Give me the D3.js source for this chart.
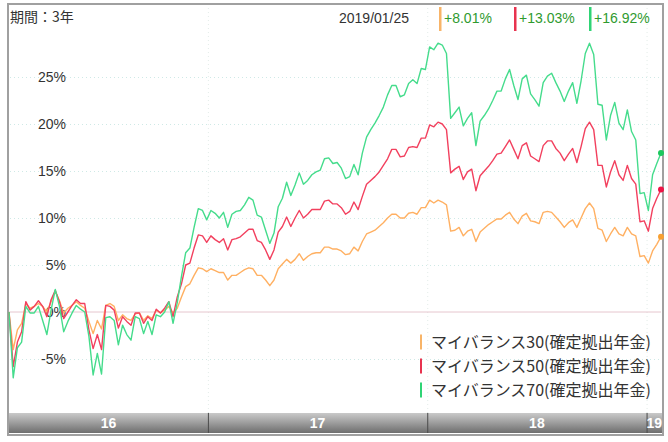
<!DOCTYPE html>
<html><head><meta charset="utf-8">
<script src="https://cdn.jsdelivr.net/npm/d3@7"></script>
<style>body{margin:0;background:#fff} svg{display:block}</style>
</head><body><svg id="c" width="668" height="442"></svg>
<script>
// ---- data ----
const periodLabel = "期間：3年";
const asOfDate = "2019/01/25";
const seriesNames = ["マイバランス30(確定拠出年金)", "マイバランス50(確定拠出年金)", "マイバランス70(確定拠出年金)"];
const changeLabels = ["+8.01%", "+13.03%", "+16.92%"];
const yTicks = [-5, 0, 5, 10, 15, 20, 25];
const yearLabels = ["16", "17", "18", "19"];
const firstWeek = "2016-02-05";

const bal30 = [0,-4.0,-1.9,-1.2,0.9,0.4,0.6,0.9,0.6,0.0,1.1,2.2,1.2,-0.1,0.4,0.7,1.1,0.7,0.4,-1.0,-2.3,-0.9,-1.8,0.7,0.9,0.6,-0.9,-0.3,-0.7,-0.9,-0.2,-0.1,-0.9,-0.4,-0.7,0.2,-0.1,0.2,0.6,-0.1,0.4,1.6,2.7,3.0,3.9,4.7,4.6,4.3,4.6,4.4,4.2,4.2,3.4,3.9,3.9,4.2,4.5,4.7,4.6,3.9,3.9,3.4,2.8,3.4,4.6,5.1,5.6,5.2,5.6,6.2,5.5,5.9,6.2,6.3,6.3,6.9,6.9,6.7,6.7,6.5,6.1,6.2,6.9,6.5,7.5,8.3,8.5,8.7,9.1,9.5,10.0,10.4,10.4,10.0,10.0,10.5,10.6,10.4,11.1,11.1,11.9,11.6,11.9,11.7,11.4,8.6,8.7,9.0,8.1,8.6,8.8,7.5,8.5,8.9,9.3,9.6,9.9,9.9,10.3,10.6,9.9,9.4,10.2,10.5,9.7,9.6,9.4,10.6,10.7,10.6,10.1,9.6,9.0,9.5,9.8,9.0,10.0,11.0,11.6,11.0,8.9,8.7,7.5,8.3,9.0,8.3,8.1,9.0,8.3,8.1,5.9,6.0,5.2,6.5,7.2,8.01];
const bal50 = [0,-5.8,-3.2,-2.1,1.1,0.2,0.6,1.2,0.6,-0.5,1.3,2.3,1.1,-0.7,0.0,0.7,1.3,0.9,0.9,-1.9,-3.9,-2.4,-4.0,0.7,0.6,0.2,-1.7,-0.5,-1.0,-1.4,-0.1,-0.1,-1.2,-0.5,-0.9,0.3,-0.1,0.4,1.1,-0.5,1.6,3.0,5.0,5.2,6.8,8.2,8.1,7.4,8.1,7.7,7.4,7.8,6.6,7.7,7.8,8.0,8.4,8.8,8.8,7.6,7.4,6.6,5.6,6.6,8.5,9.1,10.1,9.1,10.0,10.8,10.0,10.4,10.9,10.9,10.9,11.8,11.9,11.5,11.5,11.1,10.4,10.7,11.7,10.9,12.3,13.6,14.0,14.4,14.9,15.6,16.3,17.3,17.3,16.5,16.6,17.5,17.6,17.5,18.5,18.5,19.9,19.7,20.2,20.0,19.4,14.8,15.2,15.5,14.1,14.9,15.2,12.9,14.5,15.0,15.5,16.1,16.8,16.9,17.6,18.3,17.3,16.3,17.7,18.0,16.6,16.3,16.0,17.7,18.2,18.2,17.4,16.9,16.1,16.8,17.4,15.9,17.6,19.5,20.2,19.4,15.6,15.6,13.3,14.9,16.1,14.6,14.0,15.6,14.2,13.6,9.6,9.7,8.6,11.0,12.1,13.03];
const bal70 = [0,-7.0,-3.8,-3.2,0.6,-0.1,-0.1,0.6,-0.9,-2.4,0.2,2.4,0.6,-2.1,-1.0,-0.1,0.7,0.3,0.0,-2.6,-6.7,-4.4,-6.6,-0.6,-0.5,-0.9,-3.5,-1.4,-2.4,-3.0,-0.5,-0.7,-2.3,-1.0,-2.4,-0.3,-0.5,0.0,1.1,-1.2,1.0,3.8,6.3,6.8,9.0,11.0,10.8,9.8,10.8,10.5,10.0,10.6,9.0,10.4,10.7,10.8,11.4,12.2,11.9,10.3,10.1,8.7,7.3,8.4,11.2,12.1,13.8,12.4,13.5,14.8,13.6,14.0,14.6,14.9,15.1,16.3,16.4,15.8,15.9,15.3,14.2,14.4,15.7,14.6,16.9,18.6,19.4,20.1,20.9,21.8,23.1,24.1,24.1,22.9,23.1,24.3,24.7,24.3,25.9,25.8,28.2,27.9,28.6,28.4,27.5,20.6,21.2,21.8,19.8,20.6,21.2,17.7,20.3,20.9,21.6,22.5,23.5,23.5,24.8,25.8,24.1,22.6,24.8,25.2,23.2,22.6,21.9,24.4,25.1,25.4,24.4,23.5,22.4,23.5,24.4,22.2,24.6,27.5,28.6,27.4,22.1,22.0,18.3,20.9,22.3,20.1,19.4,21.5,19.2,18.3,12.6,12.7,10.8,14.6,15.8,16.92];

const allSeries = [bal30, bal50, bal70];
const lineColors = ["#ffb062", "#f2405e", "#45dc8c"];
const dotColors = ["#f7a032", "#ee1446", "#1cc95e"];
const markColors = ["#f8b468", "#e8334f", "#2fd475"];

// ---- layout ----
const svg = d3.select("#c");
const frame = {x: 8, y: 4, w: 655, h: 431};
const bar = {top: 413, bottom: 433};

const t0 = d3.timeParse("%Y-%m-%d")(firstWeek);
const dates = bal70.map((_, i) => d3.timeDay.offset(t0, i * 7));

const x = d3.scaleTime().domain([dates[0], dates[dates.length - 1]]).range([9, 661]);
const y = d3.scaleLinear().domain([0, 25]).range([312, 77]);

// frame
svg.append("rect").attr("x", frame.x).attr("y", frame.y).attr("width", frame.w).attr("height", frame.h)
  .attr("fill", "#fff").attr("stroke", "#a0a0a0").attr("stroke-width", 2);

// horizontal gridlines
const gridY = svg.append("g").attr("transform", "translate(10,0)")
  .call(d3.axisRight(y).tickValues(yTicks.filter(v => v !== 0)).tickSize(650).tickFormat(""));
gridY.select(".domain").remove();
gridY.selectAll("line").attr("stroke", "#cfe9e6").attr("stroke-dasharray", "1,3");

// vertical gridlines at year boundaries
const years = d3.timeYear.range(d3.timeYear.ceil(dates[0]), dates[dates.length - 1]);
const gridX = svg.append("g").attr("transform", `translate(0,${bar.top})`)
  .call(d3.axisTop(x).tickValues(years).tickSize(bar.top - 6).tickFormat(""));
gridX.select(".domain").remove();
gridX.selectAll("line").attr("stroke", "#e3ece9").attr("stroke-dasharray", "1,3");

// zero line
svg.append("line").attr("x1", 9).attr("x2", 661).attr("y1", y(0)).attr("y2", y(0))
  .attr("stroke", "#e6c6ce").attr("stroke-width", 1);

// y labels
const yAx = svg.append("g").attr("transform", "translate(66,0)")
  .call(d3.axisLeft(y).tickValues(yTicks).tickSize(0).tickPadding(0).tickFormat(d => d + "%"));
yAx.select(".domain").remove();
yAx.selectAll("text").attr("font-family", "'Liberation Sans', Arial, sans-serif")
  .attr("font-size", 14).attr("fill", "#333").attr("dy", "0.35em");

// lines
const line = d3.line().x((d, i) => x(dates[i])).y(d => y(d));
allSeries.forEach((s, k) => {
  svg.append("path").datum(s).attr("d", line).attr("fill", "none")
    .attr("stroke", lineColors[k]).attr("stroke-width", 1.4).attr("stroke-linejoin", "round");
});
allSeries.forEach((s, k) => {
  svg.append("circle").attr("cx", x(dates[s.length - 1])).attr("cy", y(s[s.length - 1])).attr("r", 3)
    .attr("fill", dotColors[k]);
});

// x-axis bar
const defs = svg.append("defs");
const grad = defs.append("linearGradient").attr("id", "barg").attr("x1", 0).attr("x2", 0).attr("y1", 0).attr("y2", 1);
grad.append("stop").attr("offset", "0%").attr("stop-color", "#c9c9c9");
grad.append("stop").attr("offset", "50%").attr("stop-color", "#9c9c9c");
grad.append("stop").attr("offset", "100%").attr("stop-color", "#6e6e6e");
svg.append("rect").attr("x", 9).attr("y", bar.top).attr("width", 653).attr("height", bar.bottom - bar.top)
  .attr("fill", "url(#barg)");
const xAx = svg.append("g").attr("transform", `translate(0,${bar.bottom})`)
  .call(d3.axisTop(x).tickValues(years).tickSize(bar.bottom - bar.top).tickFormat(""));
xAx.select(".domain").remove();
xAx.selectAll("line").attr("stroke", "#4a4a4a");
const bounds = [x.range()[0], ...years.map(x), 662];
yearLabels.forEach((lab, i) => {
  svg.append("text").attr("x", (bounds[i] + bounds[i + 1]) / 2).attr("y", (bar.top + bar.bottom) / 2)
    .attr("dy", "0.36em").attr("text-anchor", "middle")
    .attr("font-family", "'Liberation Sans', Arial, sans-serif").attr("font-weight", "bold")
    .attr("font-size", 14).attr("fill", "#fff").text(lab);
});

// header
svg.append("text").attr("x", 10).attr("y", 22).attr("font-family", "'Noto Sans CJK JP', sans-serif")
  .attr("font-size", 14).attr("fill", "#333").text(periodLabel);
svg.append("text").attr("x", 339).attr("y", 23).attr("font-family", "'Liberation Sans', Arial, sans-serif")
  .attr("font-size", 14).attr("fill", "#333").text(asOfDate);
const headX = [439, 514, 589];
changeLabels.forEach((lab, k) => {
  svg.append("rect").attr("x", headX[k]).attr("y", 7).attr("width", 2.5).attr("height", 24).attr("fill", markColors[k]);
  svg.append("text").attr("x", headX[k] + 5).attr("y", 23).attr("font-family", "'Liberation Sans', Arial, sans-serif")
    .attr("font-size", 14).attr("fill", "#2f9a2f").text(lab);
});

// legend
const legY = [342, 366, 390];
seriesNames.forEach((name, k) => {
  svg.append("rect").attr("x", 420).attr("y", legY[k] - 7.5).attr("width", 2).attr("height", 15).attr("fill", markColors[k]);
  svg.append("text").attr("x", 431).attr("y", legY[k]).attr("dy", "0.36em")
    .attr("font-family", "'Noto Sans CJK JP', sans-serif").attr("font-size", 16).attr("fill", "#333").text(name);
});
</script></body></html>
